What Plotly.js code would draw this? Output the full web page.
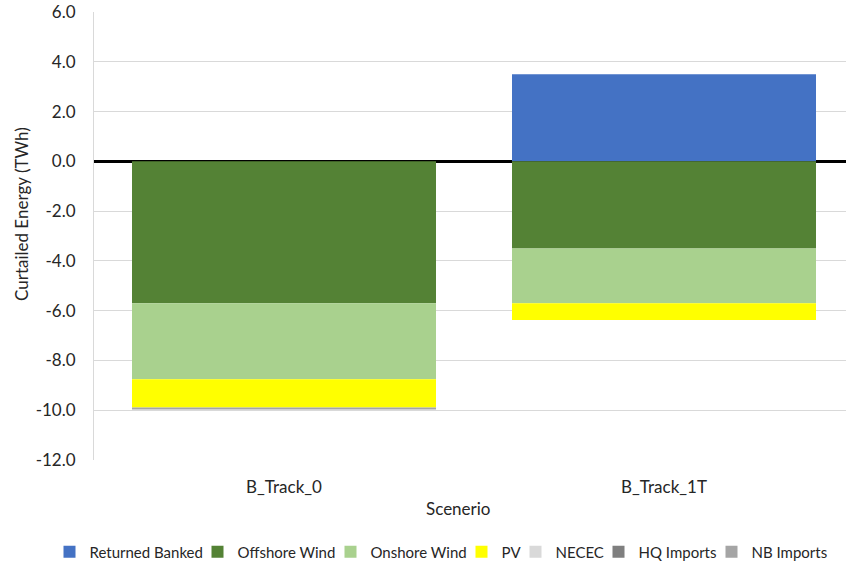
<!DOCTYPE html>
<html>
<head>
<meta charset="utf-8">
<script src="https://cdn.plot.ly/plotly-3.0.1.min.js"></script>
<style>
  html, body { margin: 0; padding: 0; background: #fff; overflow: hidden; }
  #frame { width: 846px; height: 561px; overflow: hidden; }
  #chart { width: 960px; height: 561px; }
</style>
</head>
<body>
<div id="frame"><div id="chart"></div></div>
<script>
// Curtailed energy by scenario (TWh); curtailment is stacked below zero
const scenarios = ['B_Track_0', 'B_Track_1T'];
const returnedBanked = [0, 3.5];
const offshoreWind = [-5.7, -3.5];
const onshoreWind = [-3.06, -2.2];
const pv = [-1.13, -0.67];
const necec = [0, 0];
const hqImports = [0, 0];
const nbImports = [-0.08, 0];

const yTicks = [-12, -10, -8, -6, -4, -2, 0, 2, 4, 6];
const yTickLabels = yTicks.map(v => v.toFixed(1));

const seriesDefs = [
  { name: 'Returned Banked', y: returnedBanked, color: '#4472C4' },
  { name: 'Offshore Wind', y: offshoreWind, color: '#548235' },
  { name: 'Onshore Wind', y: onshoreWind, color: '#A9D18E' },
  { name: 'PV', y: pv, color: '#FFFF00' },
  { name: 'NECEC', y: necec, color: '#D9D9D9' },
  { name: 'HQ Imports', y: hqImports, color: '#7F7F7F' },
  { name: 'NB Imports', y: nbImports, color: '#A5A5A5' }
];

const textColor = '#262626';
const family = 'Lato, "Open Sans", sans-serif';
const axisFont = { family: family, size: 17, color: textColor };
const legendFont = { family: family, size: 15, color: textColor };

// Tighter legend spacing: each entry is sized from its measured label width
const measureCtx = document.createElement('canvas').getContext('2d');
measureCtx.font = legendFont.size + 'px Lato';
const entryTrim = 10;

const traces = seriesDefs.map((s, i) => {
  const t = {
    type: 'bar',
    name: s.name,
    x: scenarios,
    y: s.y,
    marker: { color: s.color, line: { width: 0 } },
    hoverinfo: 'x+y+name'
  };
  if (i < seriesDefs.length - 1) {
    t.legendwidth = Math.max(1, Math.round(measureCtx.measureText(s.name).width - entryTrim));
  }
  return t;
});

// Plot area runs past the visible frame on the right; categories keep 380px spacing
const fullWidth = 960;
const marginLeft = 94;
const marginTop = 12;
const plotHeight = 448;
const plotWidth = fullWidth - marginLeft;
const categoryPx = 380;

const layout = {
  width: fullWidth,
  height: 561,
  margin: { l: marginLeft, r: 0, t: marginTop, b: 101 },
  paper_bgcolor: '#ffffff',
  plot_bgcolor: '#ffffff',
  font: axisFont,
  barmode: 'relative',
  bargap: 0.2,
  showlegend: true,
  legend: {
    orientation: 'h',
    xref: 'container',
    x: 441 / fullWidth,
    xanchor: 'center',
    yref: 'container',
    y: 0.016,
    yanchor: 'middle',
    traceorder: 'normal',
    itemwidth: 30,
    font: legendFont
  },
  xaxis: {
    type: 'category',
    range: [-0.5, -0.5 + plotWidth / categoryPx],
    showgrid: false,
    zeroline: false,
    showline: false,
    ticks: '',
    ticklabelstandoff: 15,
    tickfont: axisFont
  },
  yaxis: {
    range: [-12, 6],
    tickmode: 'array',
    tickvals: yTicks,
    ticktext: yTickLabels,
    showgrid: true,
    gridcolor: '#D9D9D9',
    gridwidth: 1,
    zeroline: true,
    zerolinecolor: '#000000',
    zerolinewidth: 2.5,
    showline: true,
    linecolor: '#D9D9D9',
    linewidth: 1,
    ticks: '',
    ticklabelstandoff: 14,
    tickfont: axisFont
  },
  annotations: [
    {
      // value axis title
      text: 'Curtailed Energy (TWh)',
      textangle: -90,
      xref: 'paper',
      yref: 'paper',
      x: 0,
      xanchor: 'center',
      xshift: 22 - marginLeft,
      y: (marginTop + plotHeight - 214) / plotHeight,
      yanchor: 'middle',
      showarrow: false,
      font: axisFont
    },
    {
      // category axis title
      text: 'Scenerio',
      xref: 'paper',
      yref: 'paper',
      x: (458 - marginLeft) / plotWidth,
      xanchor: 'center',
      y: 0,
      yanchor: 'middle',
      yshift: -(508 - marginTop - plotHeight),
      showarrow: false,
      font: axisFont
    }
  ]
};

Plotly.newPlot('chart', traces, layout, { displayModeBar: false, staticPlot: true });
</script>
</body>
</html>
